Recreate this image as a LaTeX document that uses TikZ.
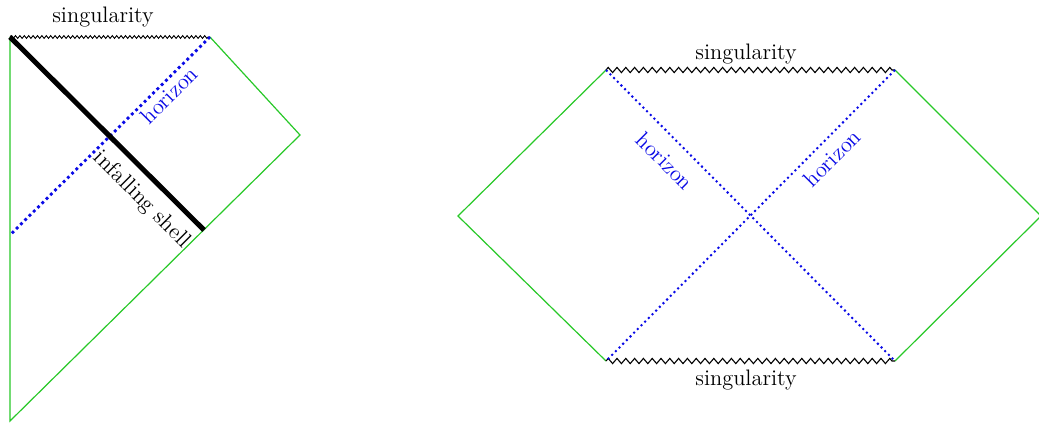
\documentclass[tikz,border=0pt]{standalone}
\usetikzlibrary{decorations.pathmorphing}
\definecolor{pgreen}{RGB}{40,200,40}
\definecolor{hblue}{RGB}{10,10,230}
\begin{document}
\begin{tikzpicture}[x=0.5pt,y=-0.5pt,
  edge/.style={pgreen,line width=0.6pt},
  sing/.style={black,line width=0.55pt,decorate,decoration={zigzag,segment length=4.4pt,amplitude=1.3pt}},
  singsmall/.style={black,line width=0.45pt,decorate,decoration={zigzag,segment length=2.2pt,amplitude=0.7pt}},
  hor/.style={hblue,line width=1pt,dash pattern=on 1pt off 1.6pt},
  horthick/.style={hblue,line width=1.4pt,dash pattern=on 1.4pt off 1.6pt},
  lbl/.style={font=\fontsize{11.2}{13}\selectfont},
  hlbl/.style={lbl,text=hblue}]
\useasboundingbox (0,0) rectangle (1039,424);
% left diagram
\coordinate (A) at (10,37);
\coordinate (B) at (210,37);
\coordinate (C) at (300,135);
\coordinate (D) at (10,421);
\coordinate (H) at (10,235);
\coordinate (S) at (204,230);
\draw[edge] (A) -- (D) -- (C) -- (B);
\draw[singsmall] (A) -- (B);
\draw[horthick] (B) -- (H);
\draw[line width=2.5pt] (A) -- (S);
\node[lbl] (s1) at (103,17) {singularity};
\node[hlbl,rotate=45] (h1) at (169,95) {horizon};
\node[lbl,rotate=-45] (f1) at (142,200) {infalling shell};
% right diagram
\coordinate (L) at (458,216);
\coordinate (TL) at (606,70);
\coordinate (TR) at (895,70);
\coordinate (R) at (1041,216);
\coordinate (BR) at (895,361);
\coordinate (BL) at (606,361);
\draw[edge] (TL) -- (L) -- (BL);
\draw[edge] (TR) -- (R) -- (BR);
\draw[sing] (TL) -- (TR);
\draw[sing] (BL) -- (BR);
\draw[hor] (TL) -- (BR);
\draw[hor] (TR) -- (BL);
\node[lbl] (s2) at (746,54) {singularity};
\node[lbl] (s3) at (746,380) {singularity};
\node[hlbl,rotate=-45] (h2) at (665,161) {horizon};
\node[hlbl,rotate=45] (h3) at (832,158) {horizon};
\end{tikzpicture}
\end{document}
